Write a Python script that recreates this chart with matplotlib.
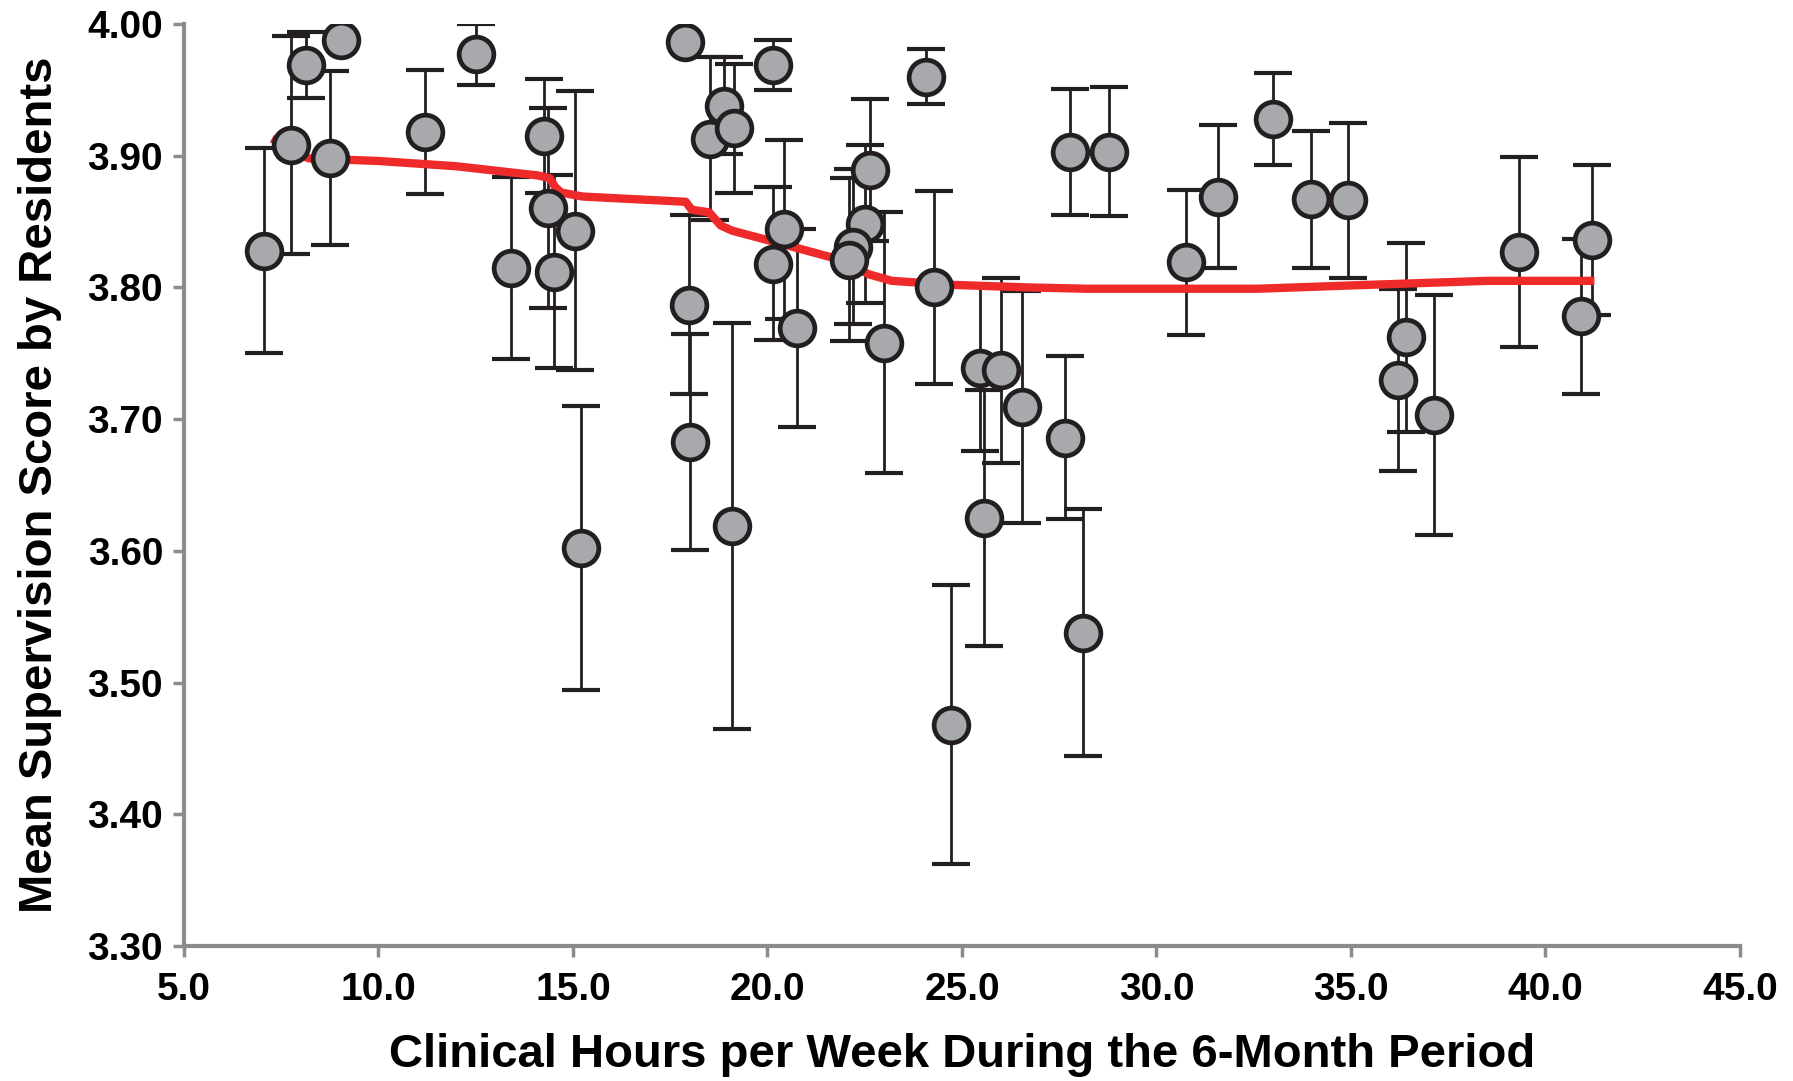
import matplotlib
matplotlib.use("Agg")
import matplotlib.pyplot as plt
from matplotlib.ticker import FormatStrFormatter

# Data
hours = [7.06, 7.76, 8.15, 8.76, 9.03, 11.2, 12.5, 13.4, 14.25, 14.35, 14.5, 15.05, 15.2,
         17.87, 17.99, 18.0, 18.52, 18.88, 19.14, 19.1, 20.14, 20.42, 20.13, 20.75,
         22.64, 22.51, 22.2, 22.1, 23.0, 24.07, 24.28, 24.72, 25.46, 25.57, 26.0, 26.54,
         27.66, 27.78, 28.78, 28.1, 30.76, 31.58, 32.99, 33.97, 34.92, 36.21, 36.41,
         37.13, 39.32, 40.91, 41.2]
scores = [3.828, 3.908, 3.969, 3.898, 3.988, 3.918, 3.977, 3.815, 3.915, 3.860, 3.812, 3.843, 3.602,
          3.986, 3.787, 3.683, 3.913, 3.938, 3.921, 3.619, 3.969, 3.844, 3.818, 3.769,
          3.889, 3.848, 3.831, 3.821, 3.758, 3.960, 3.800, 3.468, 3.739, 3.625, 3.737, 3.709,
          3.686, 3.903, 3.903, 3.538, 3.819, 3.869, 3.928, 3.867, 3.866, 3.730, 3.762,
          3.703, 3.827, 3.778, 3.836]
errors = [0.078, 0.083, 0.025, 0.066, 0.0, 0.047, 0.023, 0.069, 0.043, 0.076, 0.073, 0.106, 0.108,
          0.0, 0.068, 0.082, 0.062, 0.037, 0.049, 0.154, 0.019, 0.068, 0.058, 0.075,
          0.054, 0.060, 0.059, 0.062, 0.099, 0.021, 0.073, 0.106, 0.063, 0.097, 0.070, 0.088,
          0.062, 0.048, 0.049, 0.094, 0.055, 0.054, 0.035, 0.052, 0.059, 0.069, 0.072,
          0.091, 0.072, 0.059, 0.057]

# Smoothed trend line
trend_x = [7.26, 8.2, 10.0, 12.0, 14.1, 14.4, 14.55, 14.7, 15.25, 17.9, 18.05, 18.5, 18.8,
           19.1, 20.25, 22.0, 22.6, 23.2, 24.7, 26.7, 28.2, 32.6, 35.5, 38.5, 41.26]
trend_y = [3.913, 3.898, 3.896, 3.892, 3.885, 3.883, 3.876, 3.872, 3.869, 3.865, 3.859, 3.857,
           3.847, 3.843, 3.834, 3.820, 3.810, 3.805, 3.802, 3.800, 3.799, 3.799, 3.802, 3.805, 3.805]

x_ticks = [5.0, 10.0, 15.0, 20.0, 25.0, 30.0, 35.0, 40.0, 45.0]
y_ticks = [3.30, 3.40, 3.50, 3.60, 3.70, 3.80, 3.90, 4.00]

plt.rcParams['font.family'] = ['Liberation Sans', 'DejaVu Sans']
plt.rcParams['font.weight'] = 'bold'

fig = plt.figure(figsize=(17.93, 10.81), dpi=100)
ax = fig.add_axes([0.1026, 0.1249, 0.9704 - 0.1026, 0.9778 - 0.1249])

ax.errorbar(hours, scores, yerr=errors, fmt='none', ecolor='#231f20',
            elinewidth=2.0, capsize=14, capthick=3.0, zorder=2)
ax.plot(trend_x, trend_y, color='#ee2a2a', lw=6.0, solid_capstyle='butt', zorder=3)
ax.plot(hours, scores, linestyle='none', marker='o', markersize=25,
        markerfacecolor='#a7a9ac', markeredgecolor='#231f20', markeredgewidth=3.4, zorder=4)

ax.set_xlim(5.0, 45.0)
ax.set_ylim(3.30, 4.00)
ax.set_xticks(x_ticks)
ax.set_yticks(y_ticks)
ax.xaxis.set_major_formatter(FormatStrFormatter('%.1f'))
ax.yaxis.set_major_formatter(FormatStrFormatter('%.2f'))

for side in ['top', 'right']:
    ax.spines[side].set_visible(False)
for side in ['left', 'bottom']:
    ax.spines[side].set_color('#8a8c8e')
    ax.spines[side].set_linewidth(3.0)

ax.tick_params(axis='both', direction='out', color='#8a8c8e', width=2.5, length=8,
               labelsize=28)
ax.tick_params(axis='y', pad=7)
ax.tick_params(axis='x', pad=11)
for lbl in ax.get_xticklabels() + ax.get_yticklabels():
    lbl.set_fontweight('bold')

ax.set_xlabel('Clinical Hours per Week During the 6-Month Period', fontsize=34,
              fontweight='bold', labelpad=18)
ax.set_ylabel('Mean Supervision Score by Residents', fontsize=34,
              fontweight='bold', labelpad=18)

fig.savefig('out.png', dpi=100)
